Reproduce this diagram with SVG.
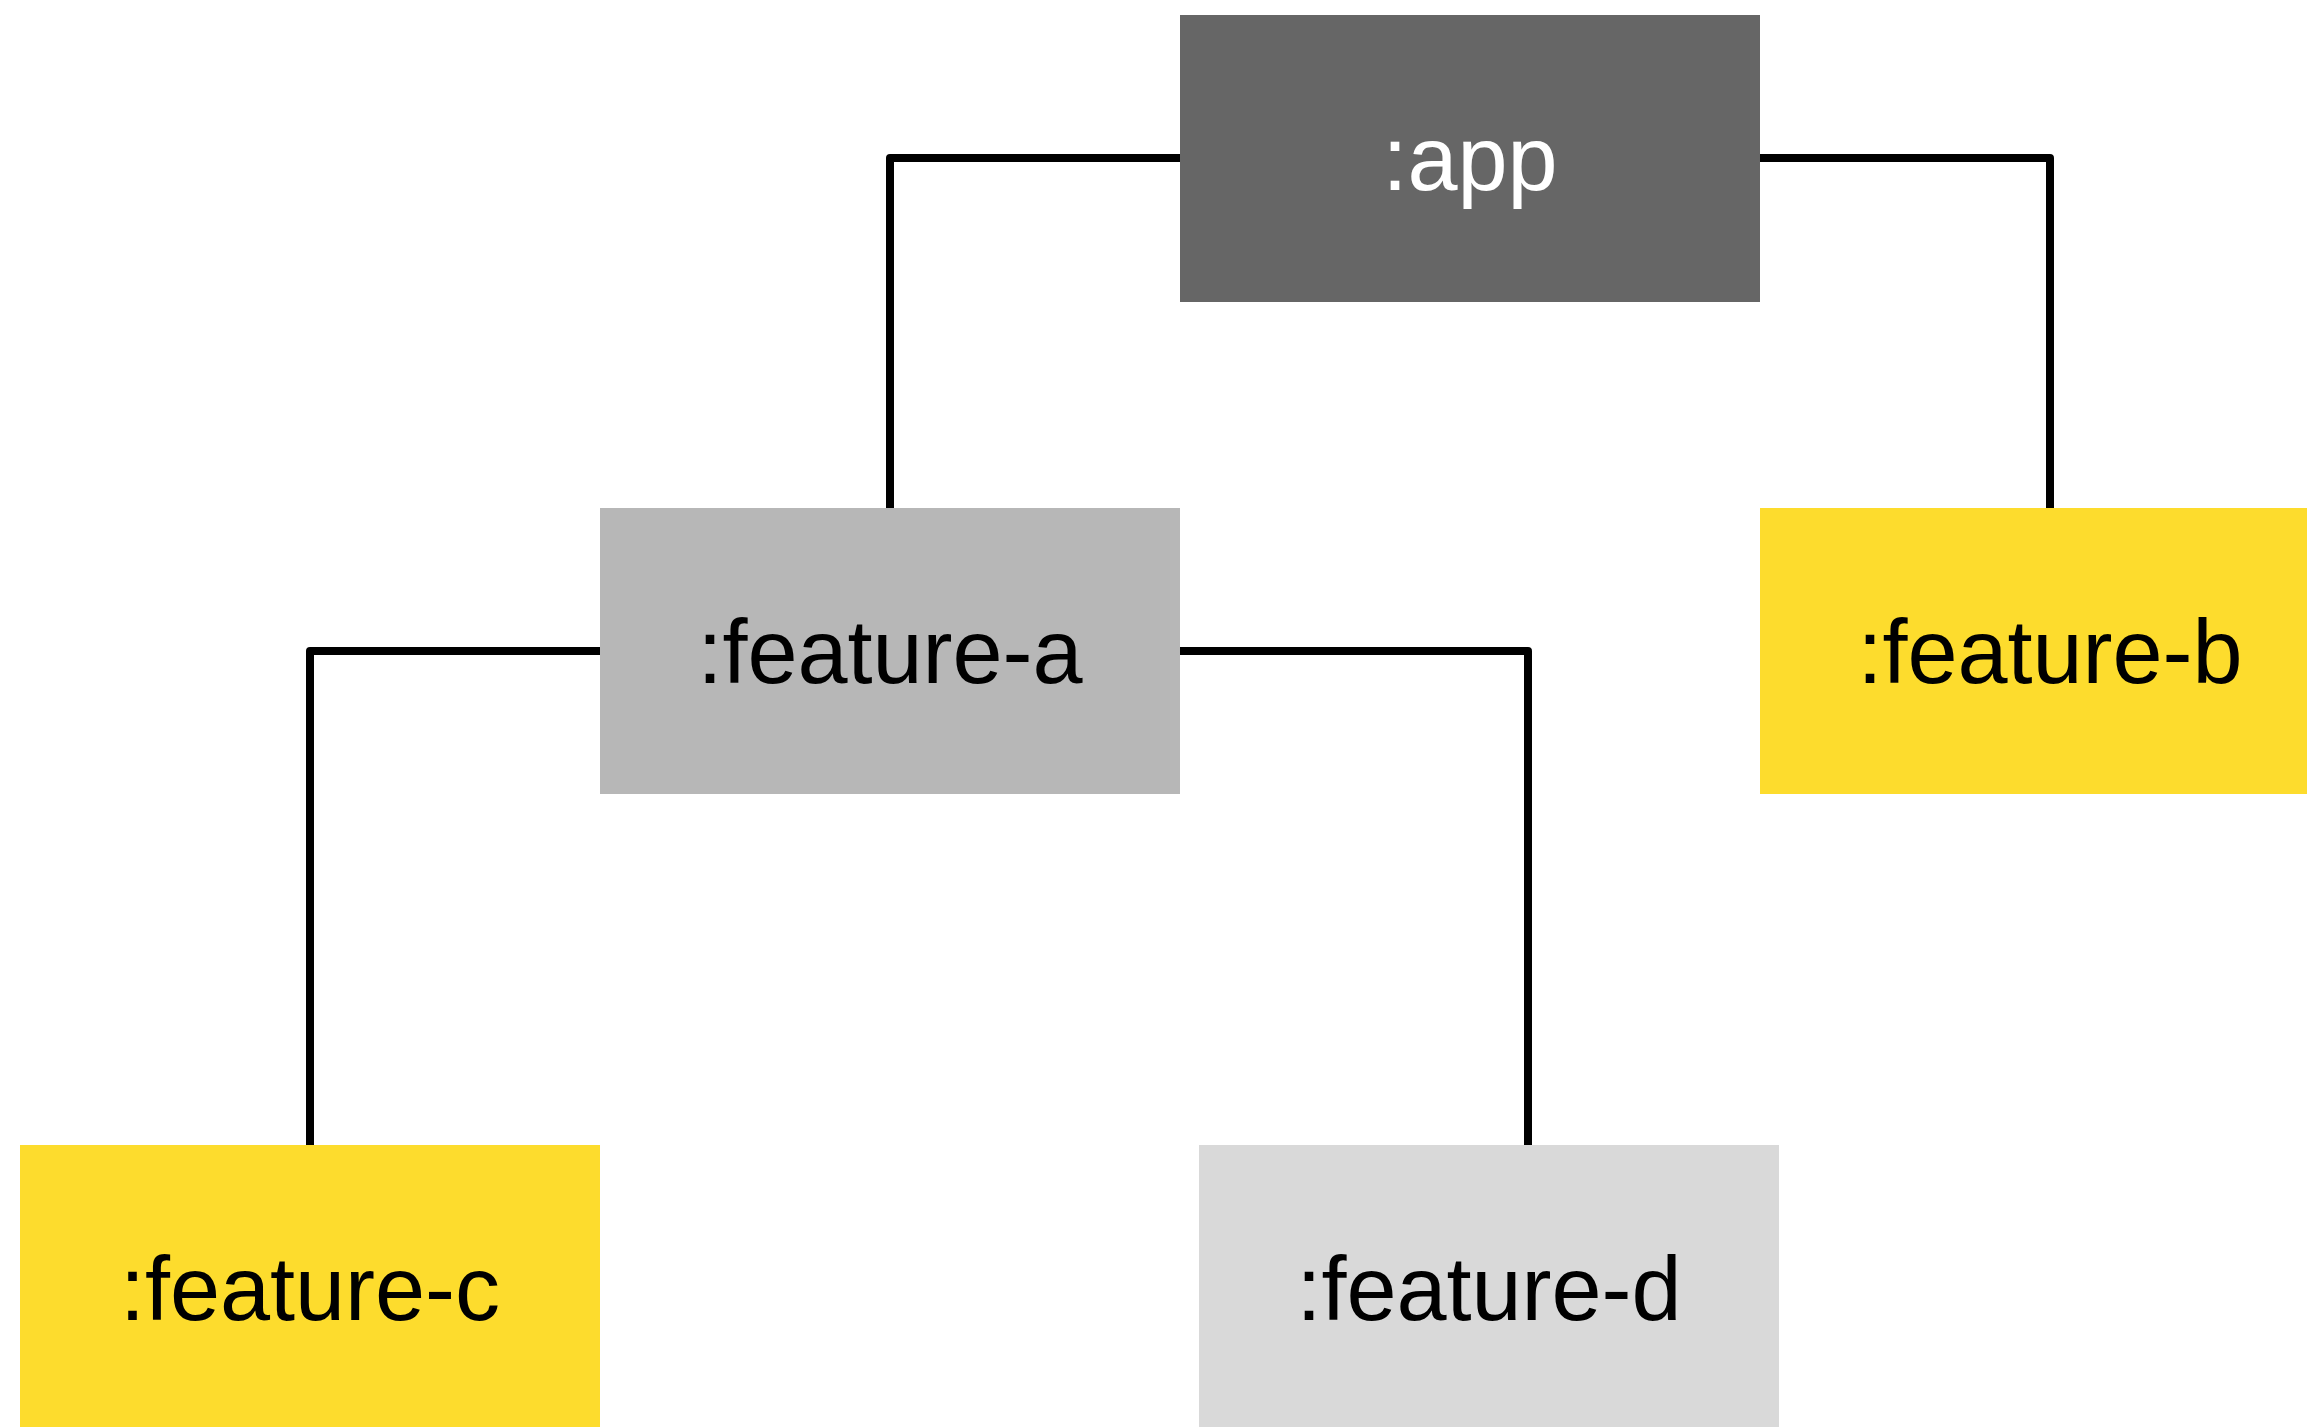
<svg xmlns="http://www.w3.org/2000/svg" width="2307" height="1427" viewBox="0 0 2307 1427">
<style>
.lbl{font-family:"Liberation Sans",Arial,sans-serif;font-size:90px;text-anchor:middle}
.conn{fill:none;stroke:#000;stroke-width:8;stroke-linejoin:round;stroke-linecap:butt}
</style>
<rect x="0" y="0" width="2307" height="1427" fill="#ffffff"/>
<g id="connectors">
<path class="conn" d="M1180 158 H890 V508"/>
<path class="conn" d="M1760 158 H2050 V508"/>
<path class="conn" d="M600 651 H310 V1145"/>
<path class="conn" d="M1180 651 H1528 V1145"/>
</g>
<g id="app">
<rect x="1180" y="15" width="580" height="287" fill="#666666"/>
<text class="lbl" x="1470" y="190" fill="#ffffff">:app</text>
</g>
<g id="feature-a">
<rect x="600" y="508" width="580" height="286" fill="#b7b7b7"/>
<text class="lbl" x="890" y="683" fill="#000000">:feature-a</text>
</g>
<g id="feature-b">
<rect x="1760" y="508" width="580" height="286" fill="#fddc2d"/>
<text class="lbl" x="2050" y="683" fill="#000000">:feature-b</text>
</g>
<g id="feature-c">
<rect x="20" y="1145" width="580" height="287" fill="#fddc2d"/>
<text class="lbl" x="310" y="1320" fill="#000000">:feature-c</text>
</g>
<g id="feature-d">
<rect x="1199" y="1145" width="580" height="287" fill="#d9d9d9"/>
<text class="lbl" x="1489" y="1320" fill="#000000">:feature-d</text>
</g>
</svg>
